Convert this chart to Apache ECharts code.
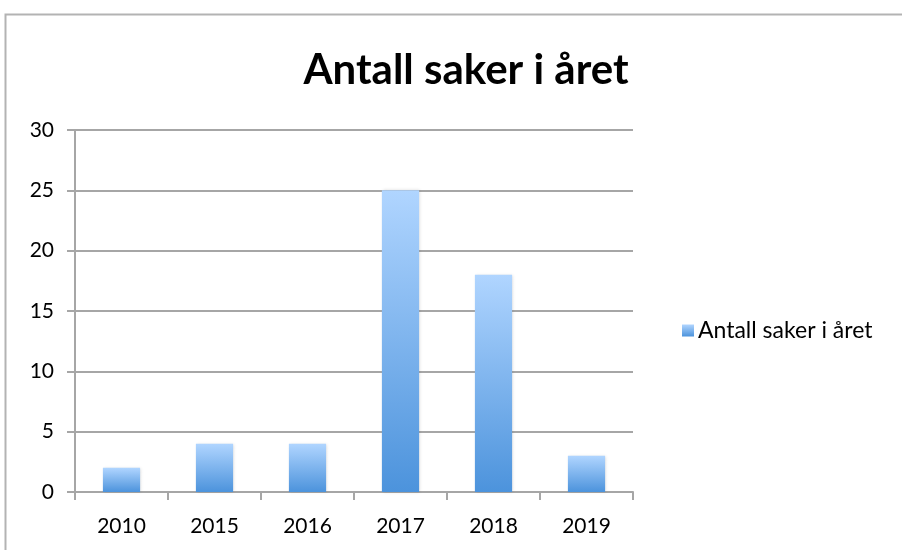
<!DOCTYPE html>
<html>
<head>
<meta charset="utf-8">
<script src="https://cdn.jsdelivr.net/npm/echarts@6/dist/echarts.min.js"></script>
<style>
  html, body { margin: 0; padding: 0; background: #fff; }
  #chart { width: 902px; height: 550px; }
</style>
</head>
<body>
<div id="chart"></div>
<script>
const years = ["2010", "2015", "2016", "2017", "2018", "2019"];
const cases = [2, 4, 4, 25, 18, 3];
const seriesName = "Antall saker i året";

const chart = echarts.init(document.getElementById("chart"));
const fontFamily = "Lato, 'Open Sans', sans-serif";
const gridColor = "#a6a6a6";

const option = {
  backgroundColor: "#fff",
  animation: false,
  title: {
    text: seriesName,
    left: 461,
    top: 44,
    textAlign: "center",
    textStyle: { fontFamily: fontFamily, fontSize: 42, fontWeight: "bold", color: "#000" },
  },
  graphic: [{
    type: "rect",
    shape: { x: 5.5, y: 14.5, width: 1000, height: 600 },
    style: { fill: "none", stroke: "#b3b3b3", lineWidth: 2 },
    silent: true,
  }],
  legend: {
    left: 677,
    top: 314,
    itemWidth: 12,
    itemHeight: 12,
    itemGap: 6,
    icon: "rect",
    textStyle: { fontFamily: fontFamily, fontSize: 23, color: "#000", padding: [0, 0, 0, -1] },
    data: [seriesName],
  },
  grid: { left: 75, right: 269, top: 130, bottom: 58 },
  xAxis: {
    type: "category",
    data: years,
    axisLine: { lineStyle: { color: gridColor, width: 2 } },
    axisTick: { show: true, length: 8, lineStyle: { color: gridColor, width: 2 } },
    axisLabel: { fontFamily: fontFamily, fontSize: 21, color: "#000", margin: 24 },
  },
  yAxis: {
    type: "value",
    min: 0,
    max: 30,
    interval: 5,
    axisLine: { show: true, lineStyle: { color: gridColor, width: 2 } },
    axisTick: { show: true, length: 8, lineStyle: { color: gridColor, width: 2 } },
    axisLabel: { fontFamily: fontFamily, fontSize: 21, color: "#000", margin: 21 },
    splitLine: { lineStyle: { color: gridColor, width: 2 } },
  },
  series: [{
    name: seriesName,
    type: "bar",
    data: cases,
    barWidth: "40%",
    itemStyle: {
      color: new echarts.graphic.LinearGradient(0, 0, 0, 1, [
        { offset: 0, color: "#b0d5ff" },
        { offset: 1, color: "#4c93dc" },
      ]),
      shadowBlur: 3,
      shadowColor: "rgba(0,0,0,0.15)",
      shadowOffsetX: 1,
    },
  }],
};
chart.setOption(option);
</script>
</body>
</html>
